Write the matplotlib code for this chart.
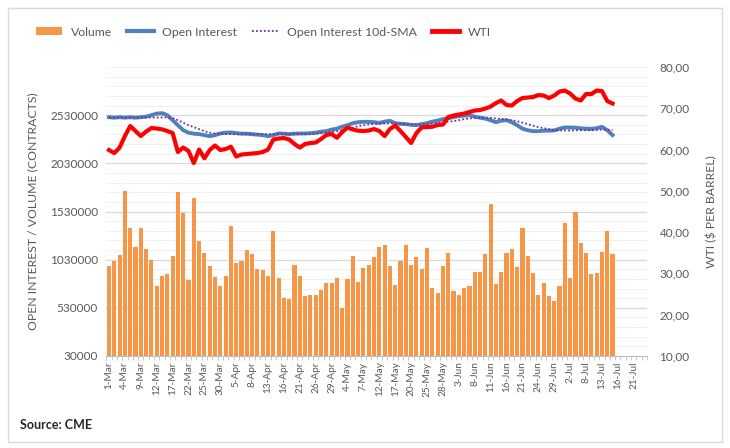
import numpy as np
import matplotlib
matplotlib.use("Agg")
import matplotlib.pyplot as plt
from matplotlib.patches import Patch, Rectangle
from matplotlib.lines import Line2D
from matplotlib.ticker import FuncFormatter

plt.rcParams['font.family'] = ['Lato', 'DejaVu Sans']

OUTPUT_FILE = "out.png"
N_CATEGORIES = 102  # trading days 1-Mar .. 23-Jul, data stops at 15-Jul

TICK_LABELS = ['1-Mar', '4-Mar', '9-Mar', '12-Mar', '17-Mar', '22-Mar', '25-Mar', '30-Mar',
               '5-Apr', '8-Apr', '13-Apr', '16-Apr', '21-Apr', '26-Apr', '29-Apr',
               '4-May', '7-May', '12-May', '17-May', '20-May', '25-May', '28-May',
               '3-Jun', '8-Jun', '11-Jun', '16-Jun', '21-Jun', '24-Jun', '29-Jun',
               '2-Jul', '8-Jul', '13-Jul', '16-Jul', '21-Jul']

# volume, thousands of contracts
volume_k = [963, 1015, 1078, 1745, 1361, 1164, 1361, 1140, 1023, 759,
            863, 884, 1070, 1731, 1513, 815, 1669, 1226, 1102, 963,
            852, 756, 863, 1378, 998, 1015, 1130, 1088, 929, 922,
            863, 1327, 836, 629, 618, 974, 857, 652, 663, 663,
            715, 790, 790, 842, 531, 832, 1067, 801, 940, 974,
            1057, 1164, 1181, 963, 767, 1015, 1181, 974, 1057, 929,
            1154, 738, 687, 963, 1102, 704, 663, 738, 756, 898,
            905, 1091, 1610, 780, 898, 1095, 1137, 950, 1355, 1067,
            888, 663, 790, 652, 597, 756, 1413, 842, 1527, 1206,
            1102, 878, 888, 1109, 1327, 1091]

# open interest, thousands of contracts
open_interest_k = [2509, 2504, 2509, 2504, 2509, 2504, 2509, 2515, 2530, 2546,
                   2551, 2530, 2478, 2426, 2374, 2348, 2338, 2333, 2323, 2312,
                   2323, 2340, 2348, 2351, 2343, 2338, 2338, 2333, 2328, 2323,
                   2312, 2323, 2340, 2338, 2333, 2338, 2340, 2340, 2343, 2348,
                   2359, 2364, 2380, 2390, 2411, 2426, 2447, 2457, 2461, 2461,
                   2457, 2450, 2463, 2471, 2447, 2440, 2437, 2429, 2426, 2437,
                   2447, 2463, 2473, 2489, 2499, 2509, 2520, 2525, 2530, 2515,
                   2504, 2494, 2478, 2457, 2473, 2478, 2457, 2426, 2390, 2374,
                   2364, 2364, 2369, 2369, 2371, 2390, 2402, 2402, 2400, 2393,
                   2390, 2388, 2395, 2409, 2374, 2323]

# open interest 10-day SMA, thousands of contracts
oi_sma_k = [2506, 2506, 2506, 2506, 2506, 2506, 2506, 2506, 2506, 2506,
            2506, 2506, 2499, 2478, 2452, 2426, 2406, 2385, 2364, 2348,
            2340, 2338, 2335, 2333, 2333, 2333, 2333, 2333, 2333, 2333,
            2333, 2333, 2335, 2335, 2335, 2335, 2335, 2335, 2335, 2338,
            2343, 2348, 2355, 2364, 2374, 2385, 2400, 2416, 2426, 2434,
            2438, 2442, 2444, 2445, 2444, 2442, 2438, 2437, 2434, 2434,
            2437, 2442, 2447, 2455, 2463, 2468, 2478, 2489, 2496, 2501,
            2504, 2504, 2501, 2496, 2491, 2485, 2478, 2468, 2452, 2437,
            2421, 2406, 2395, 2385, 2376, 2372, 2371, 2371, 2372, 2374,
            2374, 2374, 2376, 2380, 2380, 2374]

# WTI, $ per barrel
wti = [59.89, 59.16, 60.50, 63.28, 65.70, 64.49, 63.28, 64.37, 65.22, 65.10,
       64.90, 64.49, 64.01, 59.41, 60.50, 59.65, 56.74, 60.01, 57.88, 59.89,
       60.98, 59.89, 60.13, 60.69, 58.32, 58.80, 58.92, 59.04, 59.16, 59.41,
       60.01, 62.43, 62.68, 62.80, 62.43, 61.34, 60.50, 61.34, 61.59, 61.71,
       62.56, 63.52, 63.77, 62.87, 64.25, 65.34, 64.86, 64.57, 64.49, 64.61,
       64.98, 64.49, 63.28, 64.98, 65.82, 64.49, 63.04, 61.59, 64.01, 65.39,
       65.46, 65.53, 65.95, 66.07, 67.88, 68.25, 68.49, 68.73, 69.09, 69.46,
       69.58, 69.94, 70.43, 71.27, 71.88, 70.79, 70.67, 71.76, 72.48, 72.61,
       72.73, 73.21, 73.09, 72.48, 73.09, 74.06, 74.30, 73.57, 72.36, 71.88,
       73.45, 73.45, 74.30, 74.18, 71.76, 71.15]

GRAY_TEXT = '#595959'


def main():
    volume = np.array(volume_k) * 1000
    oi = np.array(open_interest_k) * 1000
    sma = np.array(oi_sma_k) * 1000
    x = np.arange(len(volume))

    fig = plt.figure(figsize=(7.3, 4.48), dpi=100)
    ax = fig.add_axes([0.1457, 0.2054, 0.7406, 0.645])
    ax2 = ax.twinx()

    # outer frame
    fig.patches.append(Rectangle((8 / 730, 6 / 448), 714 / 730, 434 / 448,
                                 transform=fig.transFigure, fill=False,
                                 edgecolor='#D9D9D9', linewidth=1.0))

    ax.bar(x, volume, width=0.78, color='#F79646', zorder=2)
    ax.plot(x, oi, color='#4F81BD', linewidth=2.8, zorder=3)
    ax.plot(x, sma, color='#7030A0', linewidth=1.3, linestyle=(0, (1, 1.2)), zorder=4)
    ax2.plot(x, wti, color='#FF0000', linewidth=3.0, zorder=5)

    ax.set_xlim(-0.5, N_CATEGORIES - 0.5)
    ax.set_ylim(30000, 3030000)
    ax2.set_ylim(10, 80)

    ax.set_yticks(np.arange(30000, 2530001, 500000))
    ax.set_yticks(np.arange(30000, 3030001, 100000), minor=True)
    ax.yaxis.set_major_formatter(FuncFormatter(lambda v, p: f"{int(round(v))}"))
    ax.grid(True, which='major', axis='y', color='#D9D9D9', linewidth=0.9, zorder=0)
    ax.grid(True, which='minor', axis='y', color='#F0F0F0', linewidth=0.7, zorder=0)
    ax.set_axisbelow(True)
    ax.tick_params(axis='y', which='both', length=0, labelsize=8.5, labelcolor=GRAY_TEXT, pad=6)

    ax2.set_yticks(np.arange(10, 81, 10))
    ax2.yaxis.set_major_formatter(FuncFormatter(lambda v, p: f"{v:.2f}".replace('.', ',')))
    ax2.tick_params(axis='y', length=0, labelsize=8.5, labelcolor=GRAY_TEXT, pad=9)

    ax.set_xticks(np.arange(0, N_CATEGORIES, 3))
    ax.set_xticklabels(TICK_LABELS, rotation=90)
    ax.set_xticks(np.arange(-0.5, N_CATEGORIES, 1), minor=True)
    ax.tick_params(axis='x', which='major', length=0, labelsize=7.2, labelcolor=GRAY_TEXT, pad=4)
    ax.tick_params(axis='x', which='minor', length=3, color='#BFBFBF', width=0.6)

    for a in (ax, ax2):
        for side in ('top', 'left', 'right', 'bottom'):
            a.spines[side].set_visible(False)
    ax.spines['bottom'].set_visible(True)
    ax.spines['bottom'].set_color('#BFBFBF')
    ax.spines['bottom'].set_linewidth(0.8)

    ax.set_ylabel('OPEN INTEREST / VOLUME (CONTRACTS)', fontsize=8.8, color=GRAY_TEXT, labelpad=8)
    ax2.set_ylabel('WTI ($ PER BARREL)', fontsize=8.8, color=GRAY_TEXT, labelpad=12)

    handles = [Patch(facecolor='#F79646', edgecolor='none'),
               Line2D([], [], color='#4F81BD', linewidth=3),
               Line2D([], [], color='#7030A0', linewidth=1.3, linestyle=(0, (1, 1.2))),
               Line2D([], [], color='#FF0000', linewidth=3.5)]
    labels = ['Volume', 'Open Interest', 'Open Interest 10d-SMA', 'WTI']
    fig.legend(handles, labels, loc='center', bbox_to_anchor=(263 / 730, 1 - 32 / 448),
               ncol=4, frameon=False, fontsize=8.8, labelcolor=GRAY_TEXT,
               handlelength=2.2, handleheight=0.6, columnspacing=1.2, handletextpad=0.7)

    fig.text(20 / 730, 1 - 425 / 448, 'Source: CME', fontsize=9, fontweight='bold',
             color='#262626', va='center')

    fig.savefig(OUTPUT_FILE, dpi=100)
    plt.close(fig)


if __name__ == "__main__":
    main()
